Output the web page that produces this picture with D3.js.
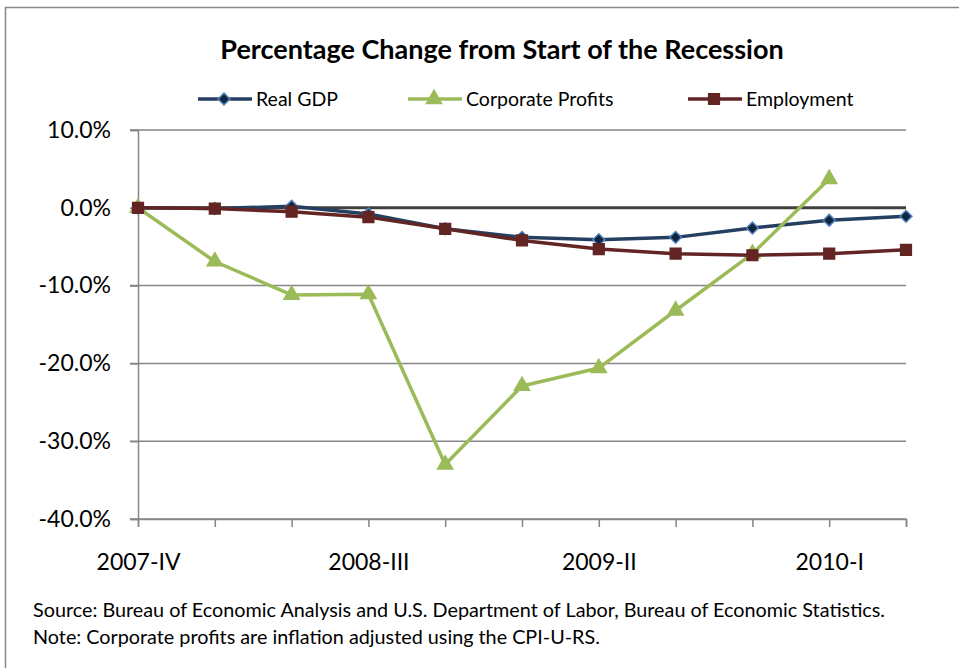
<!DOCTYPE html>
<html>
<head>
<meta charset="utf-8">
<script src="https://cdn.jsdelivr.net/npm/d3@7"></script>
<style>
  body { margin: 0; background: #fff; }
  text { font-family: Lato, "Open Sans", sans-serif; fill: #000; }
</style>
</head>
<body>
<div id="chart"></div>
<script>
const quarters = ['2007-IV', '2008-I', '2008-II', '2008-III', '2008-IV', '2009-I',
                  '2009-II', '2009-III', '2009-IV', '2010-I', '2010-II'];
const tickLabels = ['2007-IV', '2008-III', '2009-II', '2010-I'];
const yTicks = [10, 0, -10, -20, -30, -40];

const realGdp = [0, -0.1, 0.2, -0.8, -2.7, -3.8, -4.1, -3.8, -2.6, -1.6, -1.1];
const corpProfits = [0, -6.9, -11.2, -11.1, -33.0, -22.9, -20.6, -13.2, -5.9, 3.7];
const employment = [0, -0.1, -0.5, -1.2, -2.7, -4.2, -5.3, -5.9, -6.1, -5.9, -5.4];

const width = 959, height = 668;
const plot = { left: 138, right: 906, top: 130, bottom: 519 };

const svg = d3.select('#chart').append('svg')
    .attr('width', width)
    .attr('height', height);

svg.append('rect')
    .attr('x', 5.5).attr('y', 7.5)
    .attr('width', 970).attr('height', 700)
    .style('fill', 'none')
    .style('stroke', '#868686')
    .style('stroke-width', 1.5);

const xScale = d3.scalePoint()
    .domain(quarters)
    .range([plot.left, plot.right]);

const yScale = d3.scaleLinear()
    .domain([-40, 10])
    .range([plot.bottom, plot.top]);

// title
svg.append('text')
    .attr('x', 502).attr('y', 59)
    .attr('text-anchor', 'middle')
    .style('font-size', '27px')
    .style('font-weight', 'bold')
    .text('Percentage Change from Start of the Recession');

// gridlines
svg.append('g').selectAll('line')
    .data(yTicks.filter(d => d !== 0))
  .enter().append('line')
    .attr('x1', plot.left - 8).attr('x2', plot.right)
    .attr('y1', d => yScale(d)).attr('y2', d => yScale(d))
    .style('stroke', '#868686')
    .style('stroke-width', 1.5);

// y axis
const yAxis = svg.append('g')
    .attr('transform', `translate(${plot.left},0)`)
    .call(d3.axisLeft(yScale).tickValues(yTicks).tickSize(8).tickPadding(19)
      .tickFormat(d => d3.format('.1f')(d).replace('\u2212', '-') + '%'));
yAxis.select('.domain').style('stroke', '#868686').style('stroke-width', 1.5);
yAxis.selectAll('.tick line').style('stroke', '#868686').style('stroke-width', 1.5);
yAxis.selectAll('.tick text').style('font-size', '23px').style('font-family', 'Lato, sans-serif').style('fill', '#000');

// x axis (bottom)
const xAxis = svg.append('g')
    .attr('transform', `translate(0,${plot.bottom})`)
    .call(d3.axisBottom(xScale).tickSize(8).tickPadding(27)
      .tickFormat(d => tickLabels.includes(d) ? d : ''));
xAxis.select('.domain').style('stroke', '#868686').style('stroke-width', 1.5);
xAxis.selectAll('.tick line').style('stroke', '#868686').style('stroke-width', 1.5);
xAxis.selectAll('.tick text').style('font-size', '23px').style('font-family', 'Lato, sans-serif').style('fill', '#000');

// zero line
svg.append('line')
    .attr('x1', plot.left).attr('x2', plot.right)
    .attr('y1', yScale(0)).attr('y2', yScale(0))
    .style('stroke', '#404040')
    .style('stroke-width', 3);

// diamond = square turned 45 degrees
const series = [
  { name: 'Real GDP', values: realGdp, line: '#243F60', fill: '#10253F', stroke: '#4F81BD', shape: d3.symbolSquare, size: 70, rot: 45 },
  { name: 'Corporate Profits', values: corpProfits, line: '#9BBB59', fill: '#9BBB59', stroke: '#9BBB59', shape: d3.symbolTriangle, size: 100, rot: 0 },
  { name: 'Employment', values: employment, line: '#632523', fill: '#632523', stroke: '#632523', shape: d3.symbolSquare, size: 115, rot: 0 }
];

const line = d3.line()
    .x((d, i) => xScale(quarters[i]))
    .y(d => yScale(d));

series.forEach(s => {
  const g = svg.append('g');
  g.append('path')
      .datum(s.values)
      .attr('d', line)
      .style('fill', 'none')
      .style('stroke', s.line)
      .style('stroke-width', 3.5)
      .style('stroke-linejoin', 'round');
  g.selectAll('path.marker')
      .data(s.values)
    .enter().append('path')
      .attr('class', 'marker')
      .attr('transform', (d, i) => `translate(${xScale(quarters[i])},${yScale(d)}) rotate(${s.rot})`)
      .attr('d', d3.symbol().type(s.shape).size(s.size))
      .style('fill', s.fill)
      .style('stroke', s.stroke)
      .style('stroke-width', 1.5);
});

// legend
const legendPos = [198, 408, 688];
const legend = svg.append('g');
series.forEach((s, i) => {
  const x0 = legendPos[i];
  legend.append('line')
      .attr('x1', x0).attr('x2', x0 + 54)
      .attr('y1', 99).attr('y2', 99)
      .style('stroke', s.line)
      .style('stroke-width', 3.5);
  legend.append('path')
      .attr('transform', `translate(${x0 + 26},99) rotate(${s.rot})`)
      .attr('d', d3.symbol().type(s.shape).size(s.size))
      .style('fill', s.fill)
      .style('stroke', s.stroke)
      .style('stroke-width', 1.5);
  legend.append('text')
      .attr('x', x0 + 58).attr('y', 106)
      .style('font-size', '19.5px')
      .text(s.name);
});

// footnotes
const notes = [
  'Source: Bureau of Economic Analysis and U.S. Department of Labor, Bureau of Economic Statistics.',
  'Note: Corporate profits are inflation adjusted using the CPI-U-RS.'
];
svg.append('g').selectAll('text')
    .data(notes)
  .enter().append('text')
    .attr('x', 33)
    .attr('y', (d, i) => 617 + i * 27)
    .style('font-size', '19.8px')
    .text(d => d);
</script>
</body>
</html>
